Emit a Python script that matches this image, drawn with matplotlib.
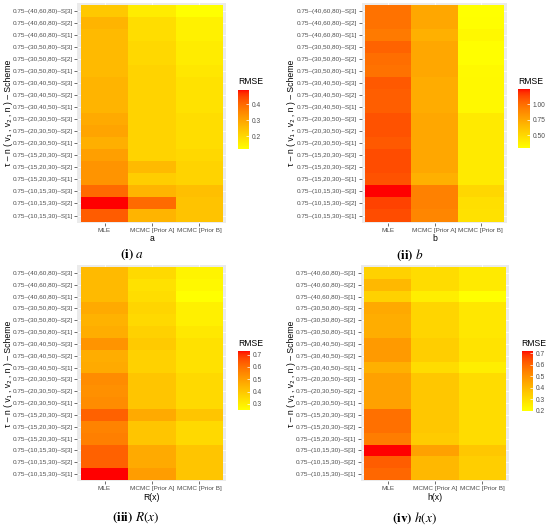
import numpy as np
import matplotlib
matplotlib.use("Agg")
import matplotlib.pyplot as plt
from matplotlib.colors import ListedColormap

plt.rcParams['font.family'] = ['Liberation Sans', 'DejaVu Sans']
plt.rcParams['mathtext.fontset'] = 'stix'

# rows listed bottom -> top
settings = ["(10,15,30)", "(15,20,30)", "(20,30,50)", "(30,40,50)", "(30,50,80)", "(40,60,80)"]
row_labels = ["0.75–%s–S[%d]" % (s, k) for s in settings for k in (1, 2, 3)]
methods = ["MLE", "MCMC [Prior A]", "MCMC [Prior B]"]

a_mle = [0.42, 0.49, 0.40, 0.33, 0.33, 0.31, 0.28, 0.30, 0.29,
         0.27, 0.27, 0.27, 0.26, 0.26, 0.26, 0.26, 0.27, 0.23]
a_pa = [0.27, 0.40, 0.27, 0.22, 0.26, 0.21, 0.21, 0.21, 0.21,
        0.21, 0.21, 0.21, 0.21, 0.20, 0.20, 0.19, 0.19, 0.16]
a_pb = [0.24, 0.24, 0.25, 0.21, 0.21, 0.20, 0.19, 0.19, 0.19,
        0.18, 0.18, 0.18, 0.17, 0.16, 0.16, 0.15, 0.15, 0.12]

b_mle = [1.12, 1.15, 1.25, 1.10, 1.12, 1.12, 1.08, 1.10, 1.10,
         1.06, 1.06, 1.08, 0.98, 1.00, 1.04, 0.95, 0.98, 0.98]
b_pa = [0.90, 0.92, 0.92, 0.70, 0.74, 0.74, 0.74, 0.74, 0.74,
        0.72, 0.72, 0.72, 0.74, 0.74, 0.74, 0.70, 0.74, 0.74]
b_pb = [0.45, 0.46, 0.50, 0.40, 0.40, 0.40, 0.40, 0.40, 0.40,
        0.33, 0.33, 0.33, 0.32, 0.30, 0.30, 0.33, 0.30, 0.29]

r_mle = [0.73, 0.63, 0.63, 0.57, 0.56, 0.63, 0.54, 0.53, 0.54,
         0.47, 0.46, 0.52, 0.46, 0.45, 0.47, 0.43, 0.43, 0.43]
r_pa = [0.50, 0.47, 0.47, 0.40, 0.40, 0.47, 0.40, 0.40, 0.40,
        0.37, 0.37, 0.39, 0.37, 0.35, 0.36, 0.34, 0.33, 0.35]
r_pb = [0.40, 0.40, 0.40, 0.35, 0.35, 0.40, 0.35, 0.35, 0.35,
        0.33, 0.33, 0.33, 0.31, 0.29, 0.29, 0.25, 0.27, 0.28]

h_mle = [0.60, 0.62, 0.72, 0.55, 0.58, 0.58, 0.46, 0.46, 0.46,
         0.42, 0.48, 0.48, 0.43, 0.43, 0.44, 0.33, 0.40, 0.33]
h_pa = [0.40, 0.40, 0.46, 0.35, 0.36, 0.36, 0.36, 0.36, 0.36,
        0.30, 0.34, 0.34, 0.32, 0.32, 0.32, 0.25, 0.30, 0.30]
h_pb = [0.34, 0.34, 0.36, 0.30, 0.30, 0.30, 0.30, 0.30, 0.30,
        0.25, 0.28, 0.28, 0.27, 0.27, 0.27, 0.20, 0.26, 0.26]


# yellow -> red gradient interpolated in Lab space (like ggplot)
def lab_to_rgb(L, a, b):
    fy = (L + 16) / 116
    fx = fy + a / 500
    fz = fy - b / 200
    def finv(t):
        return t ** 3 if t ** 3 > 0.008856 else (t - 16 / 116) / 7.787
    X, Y, Z = 0.95047 * finv(fx), finv(fy), 1.08883 * finv(fz)
    lin = [3.2406 * X - 1.5372 * Y - 0.4986 * Z,
           -0.9689 * X + 1.8758 * Y + 0.0415 * Z,
           0.0557 * X - 0.2040 * Y + 1.0570 * Z]
    out = []
    for c in lin:
        c = min(max(c, 0), 1)
        c = 12.92 * c if c <= 0.0031308 else 1.055 * c ** (1 / 2.4) - 0.055
        out.append(min(max(c, 0), 1))
    return out

yel = np.array([97.139, -21.554, 94.478])
red = np.array([53.241, 80.092, 67.203])
cmap = ListedColormap([lab_to_rgb(*(yel + t * (red - yel))) for t in np.linspace(0, 1, 256)])

ytitle = "τ – n ( v₁ , v₂ , n ) – Scheme"

panels = [
    ([a_mle, a_pa, a_pb], "a", r"$\mathbf{(i)}\ a$",
     [0.1409, 0.5777, 0.2709, 0.4157], [0.4333, 0.7178, 0.0200, 0.1117], [0.2, 0.3, 0.4], "%.1f",
     (9, 113), (238.3, 81.7), (132, 255)),
    ([b_mle, b_pa, b_pb], "b", r"$\mathbf{(ii)}\ b$",
     [0.6582, 0.5777, 0.2636, 0.4157], [0.9418, 0.7197, 0.0218, 0.1117], [0.5, 0.75, 1.0], "%.2f",
     (292, 113), (518, 81.7), (410, 255)),
    ([r_mle, r_pa, r_pb], "R(x)", r"$\mathbf{(iii)}\ R(x)$",
     [0.1409, 0.0881, 0.2709, 0.4091], [0.4333, 0.2235, 0.0213, 0.1117], [0.3, 0.4, 0.5, 0.6, 0.7], "%.1f",
     (9, 374), (238.3, 343), (136, 518)),
    ([h_mle, h_pa, h_pb], "h(x)", r"$\mathbf{(iv)}\ h(x)$",
     [0.6564, 0.0881, 0.2691, 0.4091], [0.9485, 0.2222, 0.0211, 0.1130], [0.2, 0.3, 0.4, 0.5, 0.6, 0.7], "%.1f",
     (292, 374), (521.7, 343), (415, 518)),
]

W, H = 550, 528
fig = plt.figure(figsize=(5.5, 5.28), dpi=100)

for cols, xt, cap, pos, cpos, cticks, cfmt, ypos, tpos, cappos in panels:
    data = np.array(cols).T
    ax = fig.add_axes(pos)
    ax.set_facecolor("#EBEBEB")
    ax.set_axisbelow(True)
    ax.grid(True, color="white", linewidth=0.6)
    im = ax.pcolormesh(np.arange(4) - 0.5, np.arange(19) - 0.5, data, cmap=cmap,
                       vmin=data.min(), vmax=data.max(), zorder=2)
    ax.set_xlim(-0.57, 2.57)
    ax.set_ylim(-0.62, 17.62)
    ax.set_xticks(range(3))
    ax.set_xticklabels(methods)
    ax.set_yticks(range(18))
    ax.set_yticklabels(row_labels)
    ax.tick_params(labelsize=4.6, colors="#333333", labelcolor="#4D4D4D",
                   length=2, width=0.5, pad=1.5)
    for s in ax.spines.values():
        s.set_visible(False)
    ax.set_xlabel(xt, fontsize=6.2, labelpad=1)
    fig.text(ypos[0] / W, 1 - ypos[1] / H, ytitle, rotation=90, fontsize=6.2,
             ha="center", va="center")

    cax = fig.add_axes(cpos)
    cb = fig.colorbar(im, cax=cax)
    cb.outline.set_visible(False)
    cb.set_ticks(cticks)
    cb.set_ticklabels([cfmt % t for t in cticks])
    cax.tick_params(labelsize=4.8, labelcolor="#4D4D4D", color="white",
                    direction="in", length=2.2, width=0.5, pad=2)
    fig.text(tpos[0] / W, 1 - tpos[1] / H, "RMSE", fontsize=6.2, ha="left", va="center")

    fig.text(cappos[0] / W, 1 - cappos[1] / H, cap, fontsize=9.5, ha="center", va="center")

fig.savefig("out.png", dpi=100)
